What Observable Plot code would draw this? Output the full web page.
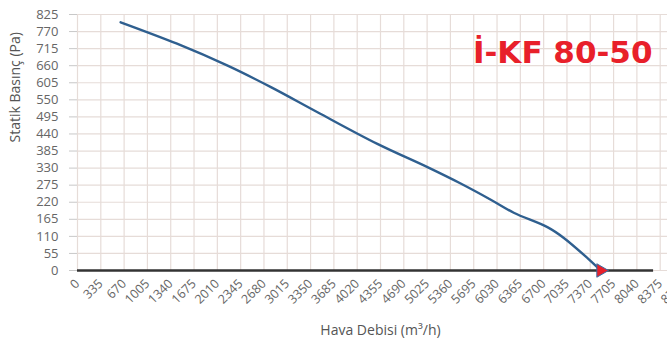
<!DOCTYPE html>
<html>
<head>
<meta charset="utf-8">
<script src="https://cdn.jsdelivr.net/npm/d3@7"></script>
<script src="https://cdn.jsdelivr.net/npm/@observablehq/plot@0.6"></script>
<style>
  html, body { margin: 0; padding: 0; background: #fff; }
</style>
</head>
<body>
<div id="chart"></div>
<script>
// Fan curve: air flow (m³/h) vs static pressure (Pa)
const flow     = [620, 1430, 2150, 2780, 3450, 4310, 5030, 5500, 5940, 6270, 6760, 6990, 7330, 7520];
const pressure = [800,  731,  661,  591,  510,  408,  333,  281,  228,  186,  139,  105,   40,    0];

// Axis ticks
const xTicks = d3.range(0, 8710 + 1, 335);
const yTicks = d3.range(0, 825 + 1, 55);

// Baseline extent (data units), labels and title
const baselineEnd = 8280;
const xLabel = "Hava Debisi (m³/h)";
const yLabel = "Statik Basınç (Pa)";
const title = "İ-KF 80-50";

const data = flow.map((f, i) => ({flow: f, pressure: pressure[i]}));
const opPoint = [data[data.length - 1]];

const chart = Plot.plot({
  width: 667,
  height: 352,
  marginLeft: 77,
  marginRight: -16,
  marginTop: 14,
  marginBottom: 82,
  style: {fontFamily: "'Open Sans', sans-serif", fontSize: "12px", color: "#666", background: "#fff"},
  x: {domain: [0, 8710]},
  y: {domain: [0, 825]},
  marks: [
    Plot.gridX(xTicks, {stroke: "#e6dcd8", strokeOpacity: 1, strokeWidth: 1.2}),
    Plot.gridY(yTicks, {stroke: "#e6dcd8", strokeOpacity: 1, strokeWidth: 1.2, x1: 0, x2: 8710}),
    Plot.axisY(yTicks, {tickSize: 8, tickPadding: 11, stroke: "#c8c8c8", fill: "#666", fontSize: 13,
      tickFormat: d => String(d), label: null}),
    Plot.axisX(xTicks, {tickSize: 0, tickPadding: 11, tickRotate: -45, fill: "#666", fontSize: 12.5,
      tickFormat: d => String(d), label: null}),
    Plot.text([xLabel], {frameAnchor: "bottom", dy: 64, fontSize: 14, fill: "#555"}),
    Plot.text([yLabel], {frameAnchor: "left", dx: -62, rotate: -90, fontSize: 14, fill: "#555"}),
    Plot.ruleY([0], {x1: 0, x2: baselineEnd, stroke: "#333", strokeWidth: 2.6}),
    Plot.line(data, {x: "flow", y: "pressure", curve: "catmull-rom", stroke: "#2f5f8f", strokeWidth: 2.4}),
    Plot.dot(opPoint, {x: "flow", y: "pressure", symbol: "triangle", rotate: 90, r: 5,
      fill: "#e8202a", stroke: "#3a6ea5", strokeWidth: 1}),
    Plot.text([title], {frameAnchor: "top-right", dx: -31, dy: 26, lineAnchor: "top",
      fontFamily: "'DejaVu Sans', sans-serif", fontWeight: "bold", fontSize: 31, fill: "#e8202a"})
  ]
});

document.getElementById("chart").appendChild(chart);
</script>
</body>
</html>
